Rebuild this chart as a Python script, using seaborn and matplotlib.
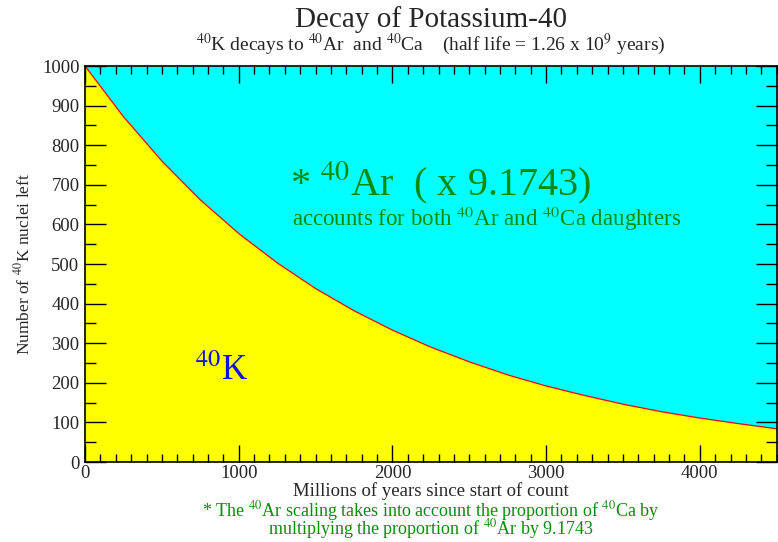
import numpy as np
import pandas as pd
import matplotlib
matplotlib.use('Agg')
import matplotlib.pyplot as plt
import seaborn as sns

# values (millions of years, nuclei left)
years = [0, 250, 500, 750, 1000, 1250, 1500, 1750, 2000, 2250,
         2500, 2750, 3000, 3250, 3500, 3750, 4000, 4250, 4500]
k40_left = [1000, 872, 760, 662, 577, 503, 438, 382, 333, 290,
            253, 220, 192, 168, 146, 127, 111, 97, 84]
top_value = [1000] * len(years)

x_ticks = [0, 1000, 2000, 3000, 4000]
y_ticks = [0, 100, 200, 300, 400, 500, 600, 700, 800, 900, 1000]

df = pd.DataFrame({'Years': years, 'K40': k40_left, 'Top': top_value})

sns.set_style("ticks")
plt.rcParams['font.family'] = ['Liberation Serif', 'DejaVu Serif']
plt.rcParams['mathtext.fontset'] = 'stix'

green = '#0a8c0a'

fig = plt.figure(figsize=(7.78, 5.42), dpi=100)
ax = fig.add_axes([0.1093, 0.1476, 0.889, 0.7306])
ax.set_axisbelow(False)

# fills: yellow under the curve, cyan above it
ax.fill_between(df['Years'], 0, df['K40'], color='#ffff00', lw=0, zorder=1)
ax.fill_between(df['Years'], df['K40'], df['Top'], color='#00ffff', lw=0, zorder=1)
sns.lineplot(data=df, x='Years', y='K40', color='red', lw=0.9, ax=ax, zorder=2)

ax.set_xlim(0, 4500)
ax.set_ylim(0, 1000)
ax.set_xticks(x_ticks)
ax.set_yticks(y_ticks)
ax.set_xticks(np.arange(0, 4501, 100), minor=True)
ax.set_yticks(np.arange(0, 1001, 50), minor=True)
ax.tick_params(axis='both', which='both', direction='in', top=True, right=True,
               labelsize=13.5, color='black', width=1, zorder=5)
ax.tick_params(axis='x', which='major', length=12, pad=2)
ax.tick_params(axis='x', which='minor', length=6)
ax.tick_params(axis='y', which='major', length=15, pad=4)
ax.tick_params(axis='y', which='minor', length=8)
for s in ax.spines.values():
    s.set_linewidth(1.2)
    s.set_color('black')
    s.set_zorder(6)

ax.set_xlabel('Millions of years since start of count', fontsize=13.5)
ax.xaxis.label.set_va('baseline')
ax.xaxis.set_label_coords(0.5, -0.0859)
ax.set_ylabel(r'Number of $^{40}$K nuclei left', fontsize=12.5, labelpad=6)

fig.text(0.554, 0.950, 'Decay of Potassium-40', ha='center', va='baseline', fontsize=21)
fig.text(0.554, 0.908, r'$^{40}$K decays to $^{40}$Ar  and $^{40}$Ca    (half life = 1.26 x 10$^{9}$ years)',
         ha='center', va='baseline', fontsize=14)

ax.text(0.296, 0.673, r'* $^{40}$Ar  ( x 9.1743)', transform=ax.transAxes,
        ha='left', va='baseline', fontsize=29, color=green)
ax.text(0.299, 0.596, r'accounts for both $^{40}$Ar and $^{40}$Ca daughters', transform=ax.transAxes,
        ha='left', va='baseline', fontsize=16.5, color=green)
ax.text(0.159, 0.207, r'$^{40}$K', transform=ax.transAxes,
        ha='left', va='baseline', fontsize=25, color='#1010e6')

fig.text(0.554, 0.048, r'* The $^{40}$Ar scaling takes into account the proportion of $^{40}$Ca by',
         ha='center', va='baseline', fontsize=13, color=green)
fig.text(0.554, 0.0135, r'multiplying the proportion of $^{40}$Ar by 9.1743',
         ha='center', va='baseline', fontsize=13, color=green)

fig.savefig('out.png', dpi=100)
